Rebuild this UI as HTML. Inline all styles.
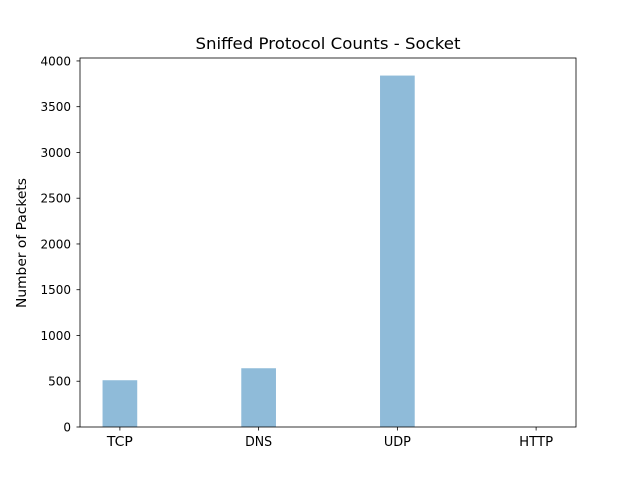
<!DOCTYPE html>
<html><head><meta charset="utf-8"><style>
body{margin:0;background:#fff;}
svg text{font-family:"DejaVu Sans","Liberation Sans",sans-serif;fill:#000;}
</style></head><body>
<svg id="chart" width="640" height="480" xmlns="http://www.w3.org/2000/svg">
<rect width="640" height="480" fill="#fff"/>
<text x="328" y="49" font-size="16" text-anchor="middle" textLength="265" lengthAdjust="spacingAndGlyphs">Sniffed Protocol Counts - Socket</text>
<text transform="translate(26,243) rotate(-90)" font-size="13.5" text-anchor="middle" textLength="130" lengthAdjust="spacingAndGlyphs">Number of Packets</text>
<g id="bars"></g>
<g id="axes"></g>
</svg>
<script>
const categories = ["TCP","DNS","UDP","HTTP"];
const counts = [511, 642, 3840, 0];
const yTicks = [0,500,1000,1500,2000,2500,3000,3500,4000];
const labelWidths = [26,27,27,34];

const L=80,R=576,T=58,B=427;
const ymax=Math.max(...counts)*1.05;
const xmin=-0.2875, xmax=categories.length-1+0.2875;
const xs=v=>L+(v-xmin)/(xmax-xmin)*(R-L);
const ys=v=>B-v/ymax*(B-T);
const NS="http://www.w3.org/2000/svg";
function mk(tag,attrs,parent){const e=document.createElementNS(NS,tag);for(const k in attrs)e.setAttribute(k,attrs[k]);parent.appendChild(e);return e;}
const bars=document.getElementById('bars'), axes=document.getElementById('axes');
categories.forEach((c,i)=>{
  const x0=xs(i-0.125), x1=xs(i+0.125);
  const r=mk('rect',{x:x0,y:ys(counts[i]),width:x1-x0,height:B-ys(counts[i]),fill:'#1f77b4','fill-opacity':0.5},bars);
  
  
  const t=mk('line',{x1:xs(i),x2:xs(i),y1:B,y2:B+3.5,stroke:'#000','stroke-width':0.8},axes);
  
  
  const l=mk('text',{x:xs(i),y:B+19,'font-size':13.5,'text-anchor':'middle',textLength:labelWidths[i],lengthAdjust:'spacingAndGlyphs'},axes);
  l.textContent=c;
  
  
});
yTicks.forEach(v=>{
  const y=ys(v);
  const t=mk('line',{x1:L-3.5,x2:L,y1:y,y2:y,stroke:'#000','stroke-width':0.8},axes);
  
  
  const l=mk('text',{x:L-9,y:y+4.5,'font-size':12,'text-anchor':'end'},axes);
  l.textContent=v;
  
  
});
const f=mk('rect',{x:L,y:T,width:R-L,height:B-T,fill:'none',stroke:'#000','stroke-width':0.8},axes);


</script>
</body></html>
